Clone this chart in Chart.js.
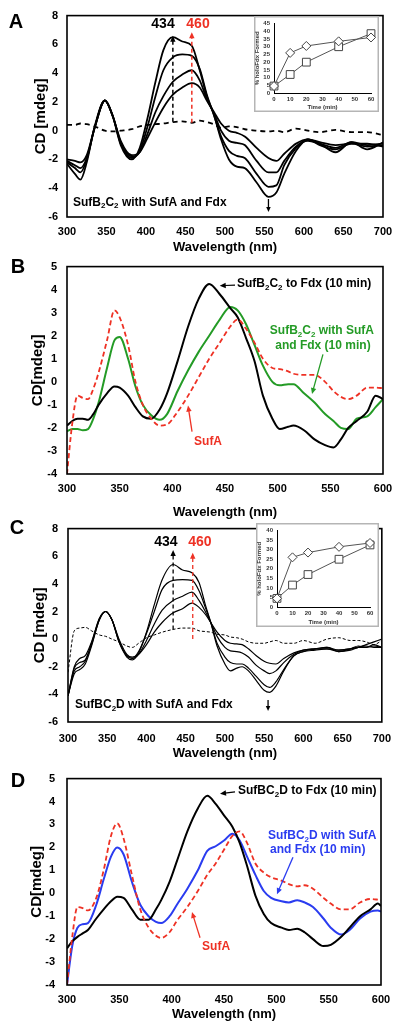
<!DOCTYPE html>
<html>
<head>
<meta charset="utf-8">
<script src="https://cdn.jsdelivr.net/npm/chart.js@4.4.0/dist/chart.umd.min.js"></script>
<style>
  body { margin: 0; background: #fff; }
  #wrap { position: relative; width: 401px; height: 1032px; overflow: hidden; }
  .pane { position: absolute; }
</style>
</head>
<body>
<div id="wrap">
  <div class="pane" style="left:0;top:0;width:401px;height:256px"><canvas id="chartA"></canvas></div>
  <div class="pane" style="left:0;top:250px;width:401px;height:272px"><canvas id="chartB"></canvas></div>
  <div class="pane" style="left:0;top:512px;width:401px;height:250px"><canvas id="chartC"></canvas></div>
  <div class="pane" style="left:0;top:760px;width:401px;height:272px"><canvas id="chartD"></canvas></div>
  <div class="pane" style="left:254px;top:16px;width:125px;height:96px"><canvas id="insetA"></canvas></div>
  <div class="pane" style="left:256px;top:523px;width:123px;height:104px"><canvas id="insetC"></canvas></div>
</div>
<script>
const FONT = "'Liberation Sans', Arial, sans-serif";
const RED = "#ee3124";
const GREEN = "#249b26";
const BLUE = "#2a3cf0";

// ---------------- panel A : SufB2C2 with SufA and Fdx, time course ----------------
const aWl = [300, 310, 317, 325, 335, 348, 358, 368, 382, 392, 402, 412, 422, 434, 446, 458, 468, 477, 486, 495, 505, 515, 525, 540, 555, 565, 575, 590, 605, 620, 640, 660, 680, 700];
const aT1 = [-2.3, -3.0, -3.4, -2.2, 0.3, 2.1, 1.0, -1.0, -2.0, -1.2, 0.9, 3.4, 5.6, 6.5, 6.2, 5.9, 4.2, 2.4, 1.1, -0.6, -2.0, -2.5, -2.6, -3.6, -4.6, -4.3, -3.0, -1.4, -0.6, -0.9, -1.5, -0.8, -1.3, -0.8];
const aT2 = [-2.2, -2.6, -2.9, -2.0, 0.2, 2.1, 1.0, -0.9, -1.9, -1.4, 0.3, 2.4, 4.2, 5.1, 5.3, 5.2, 4.3, 2.5, 1.1, -0.4, -1.4, -1.75, -1.9, -3.0, -3.9, -3.8, -2.4, -1.2, -0.6, -1.0, -1.3, -0.9, -1.1, -1.0];
const aT3 = [-2.1, -2.4, -2.6, -1.9, 0.2, 2.1, 1.0, -0.8, -1.8, -1.5, -0.2, 1.3, 2.4, 3.4, 3.9, 4.2, 3.5, 2.2, 1.2, 0.0, -0.7, -0.85, -1.0, -2.1, -2.9, -2.9, -2.1, -1.1, -0.7, -0.9, -1.2, -0.8, -1.0, -0.9];
const aT4 = [-2.0, -2.1, -2.2, -1.7, 0.2, 2.1, 1.0, -0.7, -1.7, -1.5, -0.5, 0.6, 1.6, 2.5, 3.0, 3.3, 3.0, 2.1, 1.3, 0.5, 0.0, -0.15, -0.4, -1.2, -1.9, -2.1, -1.6, -0.9, -0.6, -0.8, -1.0, -0.9, -0.9, -1.1];
const aBase = [0.4, 0.4, 0.5, 0.45, 0.3, 0.0, -0.05, 0.0, 0.1, 0.3, 0.4, 0.45, 0.5, 0.6, 0.65, 0.55, 0.7, 0.6, 0.45, 0.2, 0.3, 0.25, 0.1, 0.0, -0.05, 0.0, -0.1, 0.15, 0.0, -0.1, 0.05, -0.1, -0.1, -0.3];

// ---------------- panel B ----------------
const bWl = [300, 305, 310, 315, 320, 325, 330, 338, 345, 350, 358, 365, 372, 380, 388, 395, 405, 415, 425, 435, 445, 455, 462, 470, 478, 486, 495, 502, 510, 515, 525, 535, 545, 553, 560, 567, 575, 585, 593, 600];
const bFdx = [-1.9, -1.7, -1.6, -1.6, -1.65, -1.4, -1.0, -0.5, -0.2, -0.25, -0.6, -1.1, -1.5, -1.6, -1.2, -0.5, 0.9, 2.4, 3.6, 4.25, 3.8, 3.2, 2.8, 1.9, 0.9, -0.6, -1.6, -2.05, -1.95, -1.9, -2.1, -2.5, -2.75, -2.85, -2.5, -2.0, -1.7, -1.3, -0.6, -0.75];
const bSufAFdx = [-2.15, -2.05, -2.05, -2.1, -2.05, -1.6, -0.9, 0.6, 1.8, 1.95, 1.0, -0.2, -1.0, -1.45, -1.65, -1.4, -0.4, 0.5, 1.3, 2.0, 2.7, 3.25, 3.1, 2.5, 1.6, 0.7, 0.0, -0.15, -0.1, -0.1, -0.5, -0.9, -1.4, -1.7, -2.0, -2.05, -1.6, -1.5, -1.1, -0.75];
const bSufA = [-4.0, -1.8, -0.6, -0.7, -0.75, -0.3, 0.4, 1.8, 3.1, 2.8, 1.6, 0.0, -1.0, -1.6, -1.9, -1.85, -1.3, -0.6, 0.2, 1.0, 1.7, 2.4, 2.7, 2.3, 1.7, 1.0, 0.6, 0.55, 0.45, 0.35, 0.3, 0.3, 0.0, -0.4, -0.65, -0.75, -0.6, -0.25, -0.25, -0.28];

// ---------------- panel C : SufBC2D with SufA and Fdx, time course ----------------
const cWl = [300, 308, 315, 322, 330, 340, 348, 356, 365, 375, 382, 390, 400, 410, 420, 434, 446, 458, 467, 475, 482, 490, 500, 507, 515, 522, 530, 540, 550, 557, 565, 575, 588, 600, 615, 630, 645, 660, 670, 680, 690, 700];
const cT1 = [-4.1, -2.0, -1.4, -1.2, -0.2, 1.5, 2.0, 1.4, -0.2, -1.3, -1.5, -1.0, 0.5, 2.5, 4.3, 5.4, 5.0, 4.8, 4.1, 2.5, 1.2, -0.5, -1.8, -2.3, -2.1, -2.0, -2.3, -3.0, -3.7, -3.85, -3.4, -2.3, -1.2, -0.9, -0.8, -0.7, -0.9, -0.8, -0.6, -0.5, -0.6, -0.6];
const cT2 = [-4.1, -2.1, -1.7, -1.5, -0.3, 1.5, 2.0, 1.4, -0.2, -1.2, -1.4, -0.9, 0.4, 2.0, 3.6, 4.25, 4.3, 4.25, 3.5, 2.3, 1.2, -0.3, -1.3, -1.7, -1.8, -1.8, -2.1, -2.7, -3.3, -3.5, -3.1, -2.2, -1.2, -0.9, -0.7, -0.7, -0.8, -0.7, -0.6, -0.6, -0.5, -0.6];
const cT3 = [-4.1, -2.3, -2.0, -1.6, -0.4, 1.4, 2.0, 1.4, -0.1, -1.2, -1.4, -1.1, -0.1, 1.1, 2.1, 2.8, 3.1, 3.4, 2.8, 2.0, 1.2, 0.2, -0.6, -0.85, -0.9, -1.0, -1.3, -1.9, -2.3, -2.5, -2.3, -1.7, -1.1, -0.8, -0.7, -0.6, -0.9, -0.7, -0.5, -0.6, -0.4, -0.6];
const cT4 = [-4.1, -2.5, -2.2, -1.8, -0.5, 1.4, 2.0, 1.4, 0.0, -1.1, -1.3, -1.1, -0.4, 0.5, 1.2, 1.9, 2.2, 2.6, 2.3, 1.8, 1.2, 0.5, -0.1, -0.3, -0.35, -0.4, -0.7, -1.2, -1.6, -1.75, -1.8, -1.4, -1.0, -0.8, -0.7, -0.6, -0.8, -0.7, -0.6, -0.4, -0.2, 0.0];
const cBase = [-2.4, 0.6, 0.8, 0.85, 0.6, 0.3, 0.2, 0.0, -0.2, -0.5, -0.6, -0.3, 0.1, 0.3, 0.5, 0.7, 0.8, 0.8, 0.6, 0.55, 0.5, 0.35, 0.3, 0.15, 0.1, 0.0, -0.2, -0.3, -0.3, -0.2, -0.1, -0.3, -0.3, -0.1, -0.3, 0.0, 0.1, -0.1, -0.1, -0.2, -0.4, -0.1];

// ---------------- panel D ----------------
const dWl = [300, 305, 310, 315, 320, 328, 335, 342, 348, 354, 362, 370, 378, 385, 390, 398, 405, 415, 425, 434, 442, 450, 458, 465, 472, 480, 488, 495, 505, 512, 520, 527, 535, 545, 552, 562, 570, 580, 590, 597, 600];
const dFdx = [-2.4, -2.1, -1.9, -1.75, -1.6, -1.1, -0.7, -0.35, -0.15, -0.2, -0.7, -1.15, -1.15, -0.7, -0.3, 0.5, 1.4, 2.7, 3.7, 4.25, 3.9, 3.4, 2.9, 2.2, 1.2, -0.1, -0.9, -1.3, -1.5, -1.6, -1.55, -1.7, -2.0, -2.3, -2.25, -1.9, -1.5, -1.0, -0.7, -0.45, -0.55];
const dSufAFdx = [-4.0, -2.3, -1.5, -1.35, -1.3, -0.5, 0.6, 1.6, 2.0, 1.7, 0.5, -0.5, -1.0, -1.25, -1.3, -1.0, -0.5, 0.2, 1.0, 1.85, 2.05, 2.3, 2.6, 2.3, 1.6, 0.8, 0.1, -0.2, -0.35, -0.4, -0.3, -0.4, -0.6, -1.1, -1.5, -1.8, -1.6, -1.1, -0.8, -0.75, -0.8];
const dSufA = [-4.0, -1.9, -0.6, -0.65, -0.75, -0.2, 1.0, 2.5, 3.05, 2.4, 0.8, -0.7, -1.5, -1.85, -1.95, -1.7, -1.2, -0.6, 0.1, 0.8, 1.3, 1.9, 2.5, 2.7, 2.2, 1.3, 0.9, 0.7, 0.55, 0.4, 0.3, 0.35, 0.2, -0.2, -0.45, -0.7, -0.7, -0.4, -0.25, -0.28, -0.3];

// ---------------- insets: % holoFdx formed vs time ----------------
const insetTime = [0, 10, 20, 40, 60];
const insetADiamond = [4.5, 26, 30.5, 33.5, 36];
const insetASquare = [4.5, 12, 20, 30, 38.5];
const insetCDiamond = [4.5, 26, 28.5, 31.5, 33.5];
const insetCSquare = [4.5, 11.5, 17, 25, 32.5];

Chart.defaults.font.family = FONT;
Chart.defaults.color = "#000";

function pts(xs, ys) {
  return xs.map((x, i) => ({ x: x, y: ys[i] }));
}

function line(xs, ys, color, width, dash) {
  return {
    data: pts(xs, ys),
    borderColor: color,
    borderWidth: width,
    borderDash: dash || [],
    pointRadius: 0,
    fill: false,
    cubicInterpolationMode: "monotone"
  };
}

// draw text with "_2" style subscripts
function richText(ctx, str, x, y, size, color, align) {
  const parts = str.split(/(_\d)/).filter(s => s.length);
  const big = "bold " + size + "px " + FONT;
  const small = "bold " + Math.round(size * 0.7) + "px " + FONT;
  let w = 0;
  parts.forEach(p => {
    ctx.font = p[0] === "_" ? small : big;
    w += ctx.measureText(p[0] === "_" ? p.slice(1) : p).width;
  });
  let cx = align === "center" ? x - w / 2 : x;
  ctx.fillStyle = color;
  ctx.textBaseline = "middle";
  ctx.textAlign = "left";
  parts.forEach(p => {
    const sub = p[0] === "_";
    const t = sub ? p.slice(1) : p;
    ctx.font = sub ? small : big;
    ctx.fillText(t, cx, sub ? y + size * 0.32 : y);
    cx += ctx.measureText(t).width;
  });
}

function arrow(ctx, x1, y1, x2, y2, color, width, dash, head) {
  const ang = Math.atan2(y2 - y1, x2 - x1);
  ctx.save();
  ctx.strokeStyle = color;
  ctx.fillStyle = color;
  ctx.lineWidth = width;
  ctx.setLineDash(dash || []);
  ctx.beginPath();
  ctx.moveTo(x1, y1);
  ctx.lineTo(x2 - Math.cos(ang) * head * 0.8, y2 - Math.sin(ang) * head * 0.8);
  ctx.stroke();
  ctx.setLineDash([]);
  const bx = x2 - head * Math.cos(ang), by = y2 - head * Math.sin(ang);
  const hw = head * 0.45;
  ctx.beginPath();
  ctx.moveTo(x2, y2);
  ctx.lineTo(bx + hw * Math.sin(ang), by - hw * Math.cos(ang));
  ctx.lineTo(bx - hw * Math.sin(ang), by + hw * Math.cos(ang));
  ctx.closePath();
  ctx.fill();
  ctx.restore();
}

// frame, panel letter, labels and arrows
const decorPlugin = {
  id: "decor",
  afterDraw(chart, args, o) {
    const ctx = chart.ctx;
    const a = chart.chartArea;
    const xs = chart.scales.x, ys = chart.scales.y;
    ctx.save();
    ctx.strokeStyle = "#000";
    ctx.lineWidth = 1.6;
    ctx.strokeRect(a.left, a.top, a.right - a.left, a.bottom - a.top);
    ctx.font = "bold 20px " + FONT;
    ctx.fillStyle = "#000";
    ctx.textAlign = "center";
    ctx.textBaseline = "middle";
    ctx.fillText(o.letter, o.letterAt[0], o.letterAt[1]);
    (o.arrows || []).forEach(r => {
      arrow(ctx, xs.getPixelForValue(r.p[0]), ys.getPixelForValue(r.p[1]),
        xs.getPixelForValue(r.p[2]), ys.getPixelForValue(r.p[3]),
        r.color || "#000", r.width || 1.3, r.dash, r.head || 6);
    });
    (o.texts || []).forEach(t => {
      richText(ctx, t.t, xs.getPixelForValue(t.x), ys.getPixelForValue(t.y),
        t.size || 12, t.color || "#000", t.align || "left");
    });
    ctx.restore();
  }
};

function spectrum(id, o) {
  return new Chart(document.getElementById(id), {
    type: "line",
    data: { datasets: o.datasets },
    options: {
      animation: false,
      responsive: true,
      maintainAspectRatio: false,
      layout: { padding: { top: o.padTop, right: o.padRight, left: 0, bottom: 0 } },
      plugins: { legend: { display: false }, tooltip: { enabled: false }, decor: o.decor },
      scales: {
        x: {
          type: "linear", min: 300, max: o.xMax,
          grid: { display: false, drawTicks: false }, border: { display: false },
          ticks: { stepSize: 50, padding: o.xTickPad, autoSkip: false, maxRotation: 0, font: { size: 11, weight: "bold" } },
          title: { display: true, text: "Wavelength (nm)", font: { size: 13, weight: "bold" }, padding: { top: 0, bottom: o.xTitlePad } },
          afterFit: s => { s.height = o.xAxisH; }
        },
        y: {
          min: o.yMin, max: o.yMax,
          grid: { display: false, drawTicks: false }, border: { display: false },
          ticks: { stepSize: o.yStep, padding: o.yTickPad, autoSkip: false, font: { size: 11, weight: "bold" } },
          title: { display: true, text: o.yTitle, font: { size: 15, weight: "bold" }, padding: { top: o.yTitlePad, bottom: 0 } },
          afterFit: s => { s.width = o.yAxisW; }
        }
      }
    },
    plugins: [decorPlugin]
  });
}

const insetFrame = {
  id: "insetFrame",
  beforeDraw(chart) {
    const ctx = chart.ctx;
    ctx.save();
    ctx.fillStyle = "#fff";
    ctx.fillRect(0, 0, chart.width, chart.height);
    ctx.strokeStyle = "#b5b5b5";
    ctx.lineWidth = 1.5;
    ctx.strokeRect(0.75, 0.75, chart.width - 1.5, chart.height - 1.5);
    ctx.restore();
  }
};

function inset(id, o) {
  const mk = (ys, style, r) => ({
    data: pts(insetTime, ys),
    borderColor: "#555",
    borderWidth: 1,
    pointStyle: style,
    pointRadius: r,
    pointBorderColor: "#444",
    pointBorderWidth: 1,
    pointBackgroundColor: "#fff",
    clip: false
  });
  return new Chart(document.getElementById(id), {
    type: "line",
    data: { datasets: [mk(o.diamond, "rectRot", 4.5), mk(o.square, "rect", 5.5)] },
    options: {
      animation: false,
      responsive: true,
      maintainAspectRatio: false,
      layout: { padding: { top: 3, right: o.padRight, left: 0, bottom: 0 } },
      plugins: { legend: { display: false }, tooltip: { enabled: false } },
      scales: {
        x: {
          type: "linear", min: 0, max: 60,
          grid: { display: false, drawTicks: false }, border: { color: "#000", width: 1 },
          ticks: { stepSize: 10, padding: 3, autoSkip: false, maxRotation: 0, color: "#333", font: { size: 6, weight: "bold" } },
          title: { display: true, text: "Time (min)", color: "#333", font: { size: 6, weight: "bold" }, padding: { top: 0, bottom: 1 } },
          afterFit: s => { s.height = o.xAxisH; }
        },
        y: {
          min: 0, max: o.yMax,
          grid: { display: false, drawTicks: false }, border: { color: "#000", width: 1 },
          ticks: { stepSize: 5, padding: 4, autoSkip: false, color: "#333", font: { size: 6, weight: "bold" } },
          title: { display: true, text: "% holoFdx Formed", color: "#333", font: { size: 6, weight: "bold" }, padding: { top: 0, bottom: 0 } },
          afterFit: s => { s.width = o.yAxisW; }
        }
      }
    },
    plugins: [insetFrame]
  });
}

spectrum("chartA", {
  datasets: [
    line(aWl, aBase, "#000", 1.8, [5, 4]),
    line(aWl, aT4, "#000", 1.8),
    line(aWl, aT3, "#000", 1.8),
    line(aWl, aT2, "#000", 1.8),
    line(aWl, aT1, "#000", 1.8)
  ],
  xMax: 700, yMin: -6, yMax: 8, yStep: 2, yTitle: "CD [mdeg]",
  padTop: 12, padRight: 18, xAxisH: 39, xTickPad: 8, xTitlePad: 1,
  yAxisW: 67, yTickPad: 9, yTitlePad: 32,
  decor: {
    letter: "A", letterAt: [16, 22],
    arrows: [
      { p: [434, 0.62, 434, 6.6], dash: [4, 3], width: 1.5 },
      { p: [458, 0.55, 458, 6.85], dash: [4, 3], width: 1.5, color: RED },
      { p: [555, -4.75, 555, -5.65], width: 1.3, head: 5 }
    ],
    texts: [
      { t: "434", x: 421.5, y: 7.39, size: 14, align: "center" },
      { t: "460", x: 465.8, y: 7.39, size: 14, align: "center", color: RED },
      { t: "SufB_2C_2 with SufA and Fdx", x: 307.6, y: -4.98, size: 12 }
    ]
  }
});

spectrum("chartB", {
  datasets: [
    line(bWl, bSufA, RED, 1.8, [5, 3]),
    line(bWl, bFdx, "#000", 2),
    line(bWl, bSufAFdx, GREEN, 2)
  ],
  xMax: 600, yMin: -4, yMax: 5, yStep: 1, yTitle: "CD[mdeg]",
  padTop: 9, padRight: 18, xAxisH: 48, xTickPad: 8, xTitlePad: 2,
  yAxisW: 67, yTickPad: 10, yTitlePad: 29,
  decor: {
    letter: "B", letterAt: [18, 17],
    arrows: [
      { p: [459.5, 4.2, 445, 4.17], width: 1.2 },
      { p: [543, 1.19, 532.6, -0.53], width: 1.3, color: GREEN },
      { p: [418.7, -2.16, 414.9, -1.03], width: 1.3, color: RED }
    ],
    texts: [
      { t: "SufB_2C_2 to Fdx (10 min)", x: 461.4, y: 4.25, size: 12 },
      { t: "SufB_2C_2 with SufA", x: 542, y: 2.2, size: 12, align: "center", color: GREEN },
      { t: "and Fdx (10 min)", x: 543, y: 1.57, size: 12, align: "center", color: GREEN },
      { t: "SufA", x: 433.9, y: -2.58, size: 12, align: "center", color: RED }
    ]
  }
});

spectrum("chartC", {
  datasets: [
    line(cWl, cBase, "#000", 1, [3, 2]),
    line(cWl, cT4, "#000", 1.2),
    line(cWl, cT3, "#000", 1.2),
    line(cWl, cT2, "#000", 1.2),
    line(cWl, cT1, "#000", 1.2)
  ],
  xMax: 700, yMin: -6, yMax: 8, yStep: 2, yTitle: "CD [mdeg]",
  padTop: 9, padRight: 19, xAxisH: 40, xTickPad: 10, xTitlePad: 1,
  yAxisW: 68, yTickPad: 10, yTitlePad: 31,
  decor: {
    letter: "C", letterAt: [17, 16],
    arrows: [
      { p: [434, 0.7, 434, 6.45], dash: [4, 3], width: 1.3 },
      { p: [459, 0.0, 459, 6.25], dash: [4, 3], width: 1.3, color: RED },
      { p: [555, -4.4, 555, -5.2], width: 1.3, head: 5 }
    ],
    texts: [
      { t: "434", x: 424.8, y: 7.03, size: 14, align: "center" },
      { t: "460", x: 468, y: 7.03, size: 14, align: "center", color: RED },
      { t: "SufBC_2D with SufA and Fdx", x: 308.9, y: -4.74, size: 12 }
    ]
  }
});

spectrum("chartD", {
  datasets: [
    line(dWl, dSufA, RED, 1.8, [5, 3]),
    line(dWl, dFdx, "#000", 2),
    line(dWl, dSufAFdx, BLUE, 2)
  ],
  xMax: 600, yMin: -4, yMax: 5, yStep: 1, yTitle: "CD[mdeg]",
  padTop: 7, padRight: 20, xAxisH: 47, xTickPad: 8, xTitlePad: 10,
  yAxisW: 67, yTickPad: 12, yTitlePad: 28,
  decor: {
    letter: "D", letterAt: [18, 21],
    arrows: [
      { p: [460.5, 4.42, 446.2, 4.34], width: 1.2 },
      { p: [515.9, 1.57, 500.6, -0.04], width: 1.3, color: BLUE },
      { p: [427.1, -1.94, 419.4, -0.82], width: 1.3, color: RED }
    ],
    texts: [
      { t: "SufBC_2D to Fdx (10 min)", x: 463.4, y: 4.46, size: 12 },
      { t: "SufBC_2D with SufA", x: 492, y: 2.52, size: 12, color: BLUE },
      { t: "and Fdx (10 min)", x: 494, y: 1.9, size: 12, color: BLUE },
      { t: "SufA", x: 442.4, y: -2.35, size: 12, align: "center", color: RED }
    ]
  }
});

inset("insetA", { diamond: insetADiamond, square: insetASquare, yMax: 45, padRight: 8, xAxisH: 19, yAxisW: 20 });
inset("insetC", { diamond: insetCDiamond, square: insetCSquare, yMax: 40, padRight: 9, xAxisH: 20, yAxisW: 21 });
</script>
</body>
</html>
